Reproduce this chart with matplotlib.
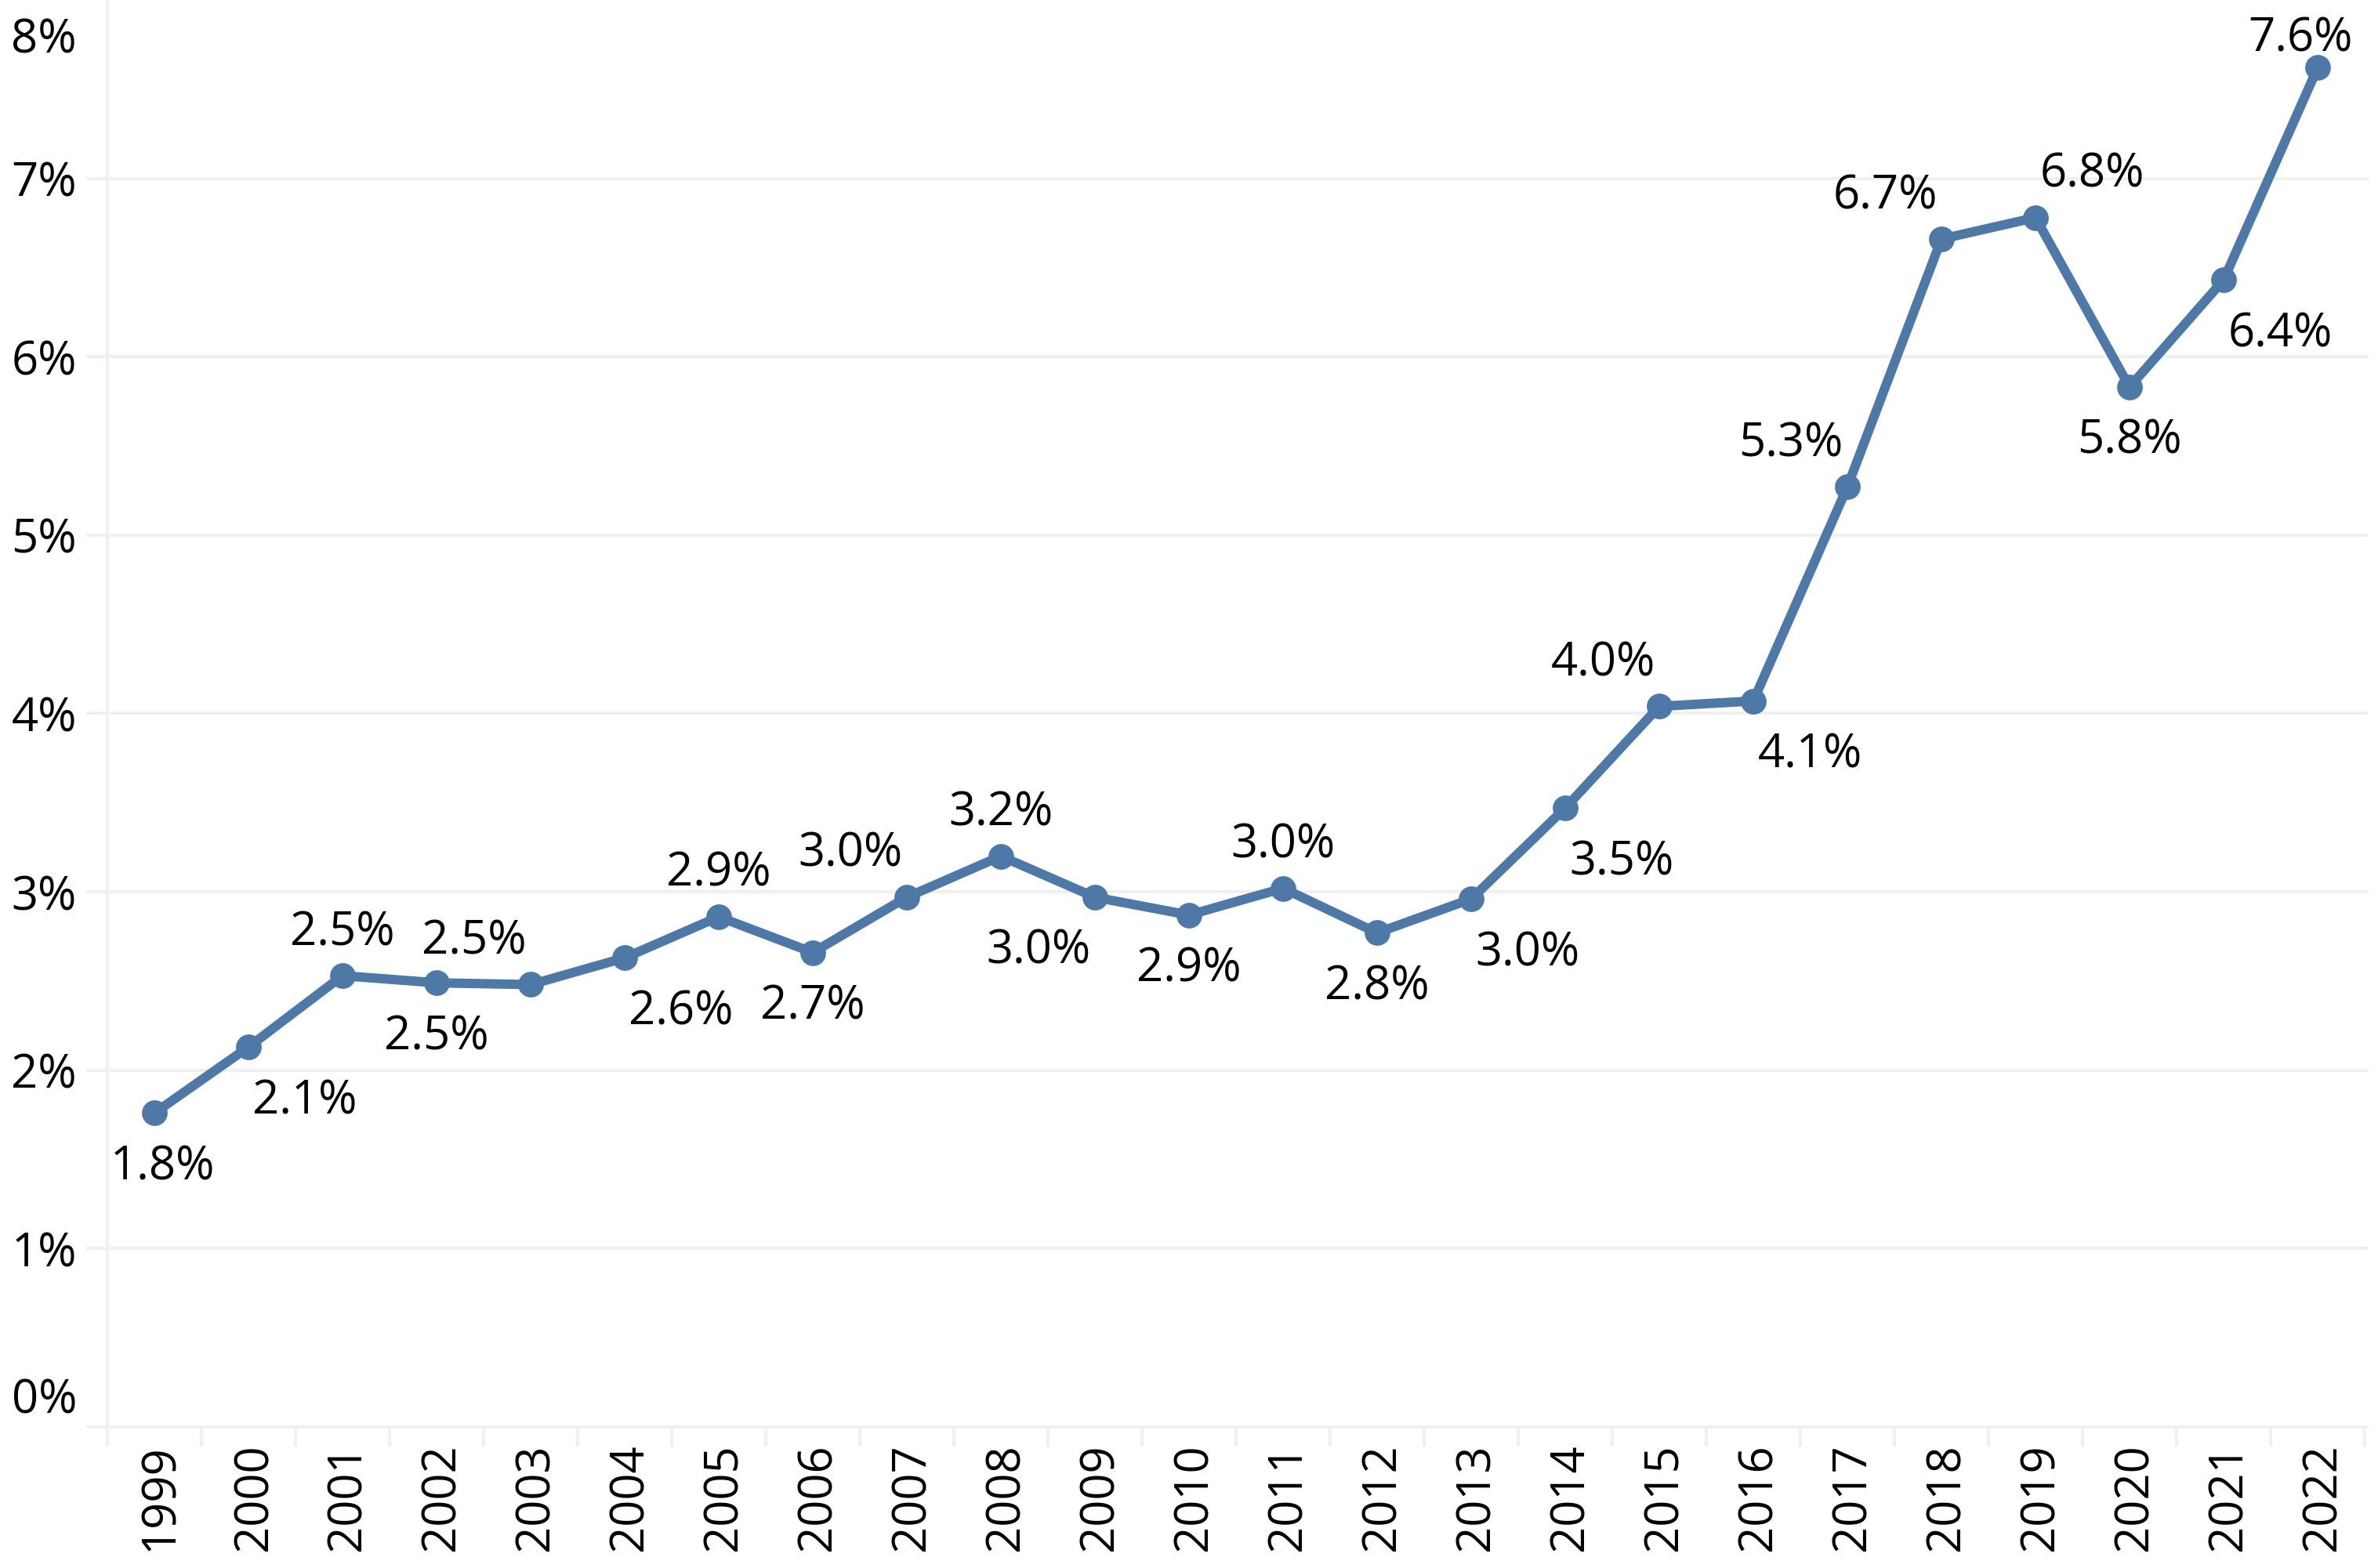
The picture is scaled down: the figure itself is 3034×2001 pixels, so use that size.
import matplotlib
matplotlib.use('Agg')
import matplotlib.pyplot as plt
import matplotlib.transforms as mtransforms
import numpy as np

# data
years = list(range(1999, 2023))
rate = [1.76, 2.13, 2.53, 2.49, 2.48, 2.63, 2.86, 2.66, 2.97, 3.20, 2.97, 2.87,
        3.02, 2.77, 2.96, 3.47, 4.04, 4.07, 5.27, 6.66, 6.78, 5.83, 6.43, 7.62]
y_ticks = [0, 1, 2, 3, 4, 5, 6, 7, 8]

# where each value label sits around its point (t=top, b=bottom, l/r=shifted)
label_pos = ['b', 'br', 't', 'b', 'tl', 'br', 't', 'b', 'tl', 't', 'bl', 'b',
             't', 'b', 'br', 'br', 'tl', 'br', 'tl', 'tl', 'tr', 'b', 'br', 't']

DPI = 200
PX = 72 / DPI  # points per pixel
W, H = 3034, 2001

BLUE = '#4e79a7'
GRID = '#f0f0f0'
FS = 21.5

plt.rcParams['font.family'] = ['Open Sans', 'DejaVu Sans']

fig = plt.figure(figsize=(W / DPI, H / DPI), dpi=DPI)
ax = fig.add_axes([137 / W, 180 / H, 2880 / W, 1821 / H])

x = np.arange(len(years))
ax.plot(x, rate, color=BLUE, lw=12 * PX, marker='o', ms=30 * PX,
        solid_joinstyle='round', solid_capstyle='round', zorder=3)

ax.set_xlim(-0.5, len(years) - 0.5)
ax.set_ylim(0, 8)

# gridlines (they run a little past the left axis, like the original)
for v in y_ticks[:-1]:
    ax.axhline(v, xmin=-25 / 2880, xmax=1.001, color=GRID, lw=4 * PX,
               clip_on=False, zorder=1)

for side in ['top', 'right', 'bottom']:
    ax.spines[side].set_visible(False)
ax.spines['left'].set_color(GRID)
ax.spines['left'].set_linewidth(4 * PX)

# x axis: year labels, separator ticks between years
ax.set_xticks(x)
ax.set_xticklabels([str(y) for y in years], rotation=90, fontsize=FS,
                   rotation_mode='anchor', ha='right', va='center_baseline')
ax.tick_params(axis='x', which='major', length=0, pad=21 * PX)
ax.set_xticks(np.arange(-0.5, len(years)), minor=True)
ax.tick_params(axis='x', which='minor', length=25 * PX, width=4 * PX,
               color=GRID)

# y axis
ax.set_yticks(y_ticks)
ax.set_yticklabels([f'{v}%' for v in y_ticks], fontsize=FS)
ax.tick_params(axis='y', length=0, pad=39 * PX)
ylabels = ax.get_yticklabels()
ylabels[0].set_transform(ylabels[0].get_transform() +
                         mtransforms.ScaledTranslation(0, 41 / DPI, fig.dpi_scale_trans))
ylabels[-1].set_transform(ylabels[-1].get_transform() +
                          mtransforms.ScaledTranslation(0, -45 / DPI, fig.dpi_scale_trans))

# value labels
offsets = {'t': (0, 62), 'b': (0, -62), 'tl': (-72, 62), 'tr': (72, 62),
           'bl': (-72, -62), 'br': (72, -62)}
nudge = {0: (10, 0), 23: (-22, -18)}
for i, v in enumerate(rate):
    dx, dy = offsets[label_pos[i]]
    ndx, ndy = nudge.get(i, (0, 0))
    ax.annotate(f'{v:.1f}%', (i, v), xytext=((dx + ndx) * PX, (dy + ndy) * PX),
                textcoords='offset points', ha='center', va='center_baseline',
                fontsize=FS, color='black', annotation_clip=False, zorder=4)

fig.savefig('out.png', dpi=DPI)
